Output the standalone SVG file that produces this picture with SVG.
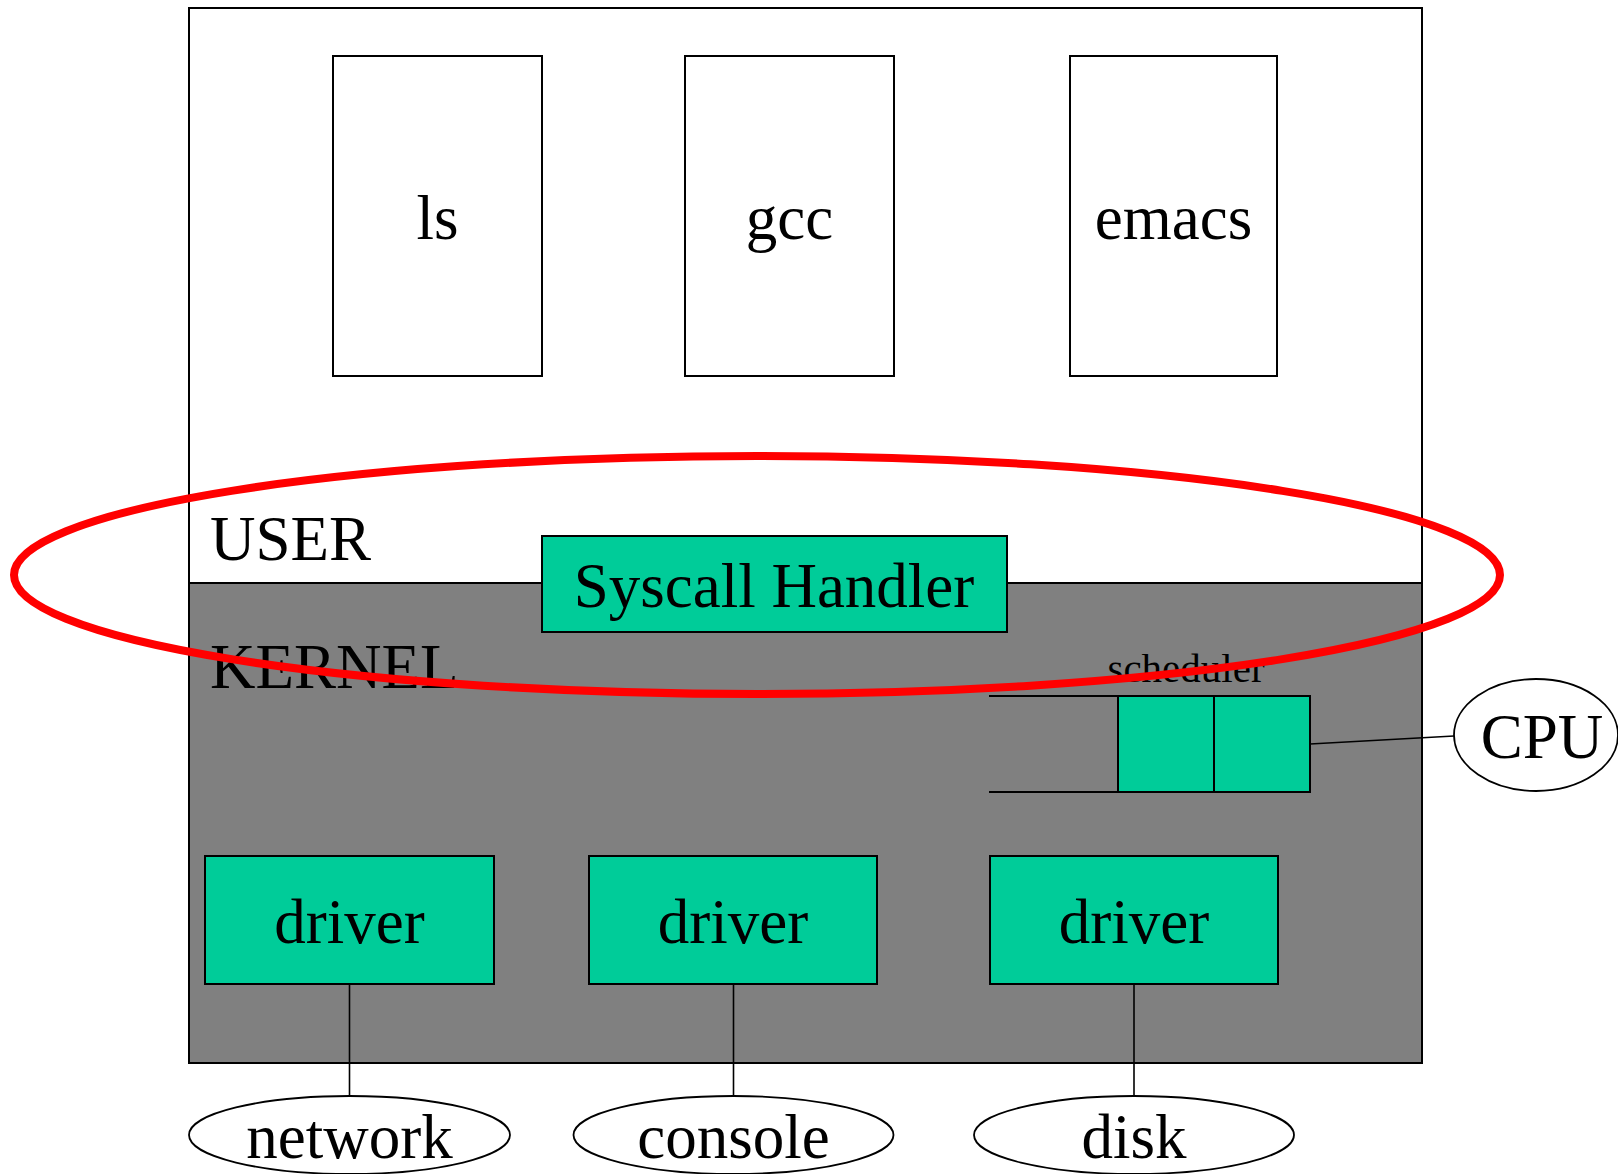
<svg xmlns="http://www.w3.org/2000/svg" width="1618" height="1174" viewBox="0 0 1618 1174">
<style>
text{font-family:"Liberation Serif","Times New Roman",serif;fill:#000}
.big{font-size:63px}
.mid{text-anchor:middle}
.box{fill:#fff;stroke:#000;stroke-width:2}
.g{fill:#00CC99;stroke:#000;stroke-width:2}
.conn{stroke:#000;stroke-width:1.6;fill:none}
.ell{fill:#fff;stroke:#000;stroke-width:1.8}
</style>
<g id="user">
<rect x="189" y="8" width="1233" height="575" class="box"/>
<text x="210" y="560" class="big">USER</text>
</g>
<g id="kernel">
<rect x="189" y="583" width="1233" height="480" fill="#808080" stroke="#000" stroke-width="2"/>
<text x="210" y="688" class="big">KERNEL</text>
</g>
<g id="ls"><rect x="333" y="56" width="209" height="320" class="box"/><text x="437.5" y="239" class="big mid">ls</text></g>
<g id="gcc"><rect x="685" y="56" width="209" height="320" class="box"/><text x="789.5" y="239" class="big mid">gcc</text></g>
<g id="emacs"><rect x="1070" y="56" width="207" height="320" class="box"/><text x="1173.5" y="239" class="big mid">emacs</text></g>
<g id="syscall"><rect x="542" y="536" width="465" height="96" class="g"/><text x="774" y="607" class="big mid">Syscall Handler</text></g>
<g id="scheduler">
<text x="1186" y="682" class="mid" font-size="41">scheduler</text>
<line x1="989" y1="696" x2="1118" y2="696" stroke="#000" stroke-width="2"/>
<line x1="989" y1="792" x2="1118" y2="792" stroke="#000" stroke-width="2"/>
<rect x="1118" y="696" width="96" height="96" class="g"/>
<rect x="1214" y="696" width="96" height="96" class="g"/>
</g>
<g id="driver1"><rect x="205" y="856" width="289" height="128" class="g"/><text x="349.5" y="943" class="big mid">driver</text></g>
<g id="driver2"><rect x="589" y="856" width="288" height="128" class="g"/><text x="733" y="943" class="big mid">driver</text></g>
<g id="driver3"><rect x="990" y="856" width="288" height="128" class="g"/><text x="1134" y="943" class="big mid">driver</text></g>
<g id="connectors">
<line x1="1310" y1="744" x2="1454" y2="736" class="conn"/>
<line x1="349.5" y1="984" x2="349.5" y2="1096" class="conn"/>
<line x1="733.5" y1="984" x2="733.5" y2="1096" class="conn"/>
<line x1="1134" y1="984" x2="1134" y2="1096" class="conn"/>
</g>
<g id="cpu"><ellipse cx="1536" cy="735" rx="82" ry="56" class="ell"/><text x="1542" y="758" class="big mid">CPU</text></g>
<g id="network"><ellipse cx="349.5" cy="1135" rx="160.5" ry="39" class="ell"/><text x="349.5" y="1158" class="big mid">network</text></g>
<g id="console"><ellipse cx="733.5" cy="1135" rx="160" ry="39" class="ell"/><text x="733.5" y="1158" class="big mid">console</text></g>
<g id="disk"><ellipse cx="1134" cy="1135" rx="160" ry="39" class="ell"/><text x="1134" y="1158" class="big mid">disk</text></g>
<g id="highlight"><ellipse cx="757" cy="575" rx="743" ry="119" fill="none" stroke="#FF0000" stroke-width="8"/></g>
</svg>
